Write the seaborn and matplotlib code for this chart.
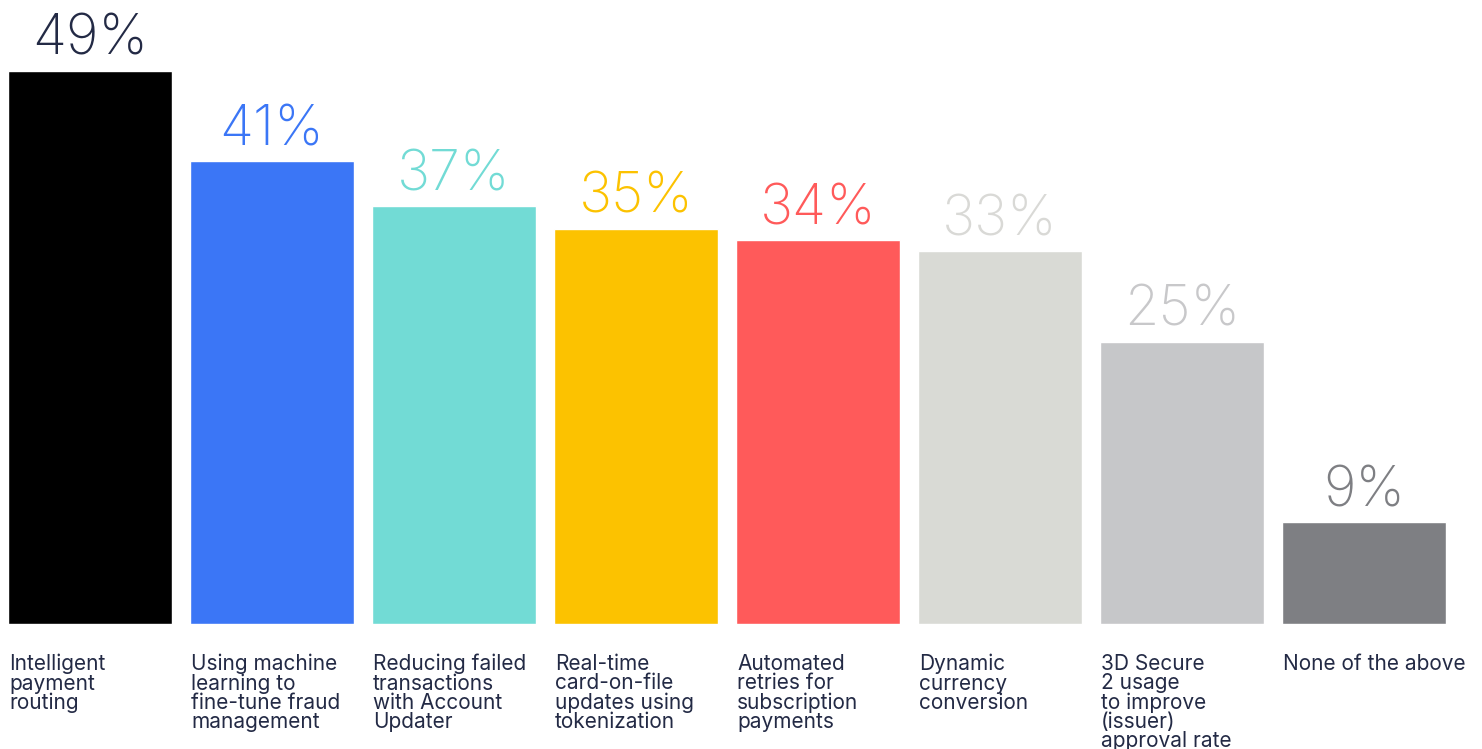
import matplotlib
matplotlib.use("Agg")
import matplotlib.pyplot as plt
import seaborn as sns
import pandas as pd

# 数据
categories = [
    "Intelligent\npayment\nrouting",
    "Using machine\nlearning to\nfine-tune fraud\nmanagement",
    "Reducing failed\ntransactions\nwith Account\nUpdater",
    "Real-time\ncard-on-file\nupdates using\ntokenization",
    "Automated\nretries for\nsubscription\npayments",
    "Dynamic\ncurrency\nconversion",
    "3D Secure\n2 usage\nto improve\n(issuer)\napproval rate",
    "None of the above",
]
values = [49, 41, 37, 35, 34, 33, 25, 9]
bar_colors = ["#000000", "#3b76f6", "#72dbd5", "#fcc200", "#ff5a5a", "#d9dad5", "#c6c7c9", "#7e7f83"]
value_colors = ["#232a45", "#3b76f6", "#72dbd5", "#fcc200", "#ff5a5a", "#d9d9d6", "#c8c8ca", "#7e7f83"]
label_color = "#232a45"

df = pd.DataFrame({"category": categories, "value": values})

sns.set_style("white")
plt.rcParams["font.family"] = ["Inter", "DejaVu Sans"]

fig = plt.figure(figsize=(14.82, 7.49), dpi=100)
ax = fig.add_axes([0, 125 / 749, 1, 624 / 749])

sns.barplot(data=df, x="category", y="value", hue="category",
            palette=bar_colors, width=0.9, saturation=1, legend=False, ax=ax)

ax.set_xlim(-90 / 182, (1482 - 90) / 182)
ax.set_ylim(0, 624 / 11.29)
ax.axis("off")

# 数值标签
for i, v in enumerate(values):
    ax.annotate(f"{v}%", xy=(i, v), xytext=(0, 16), textcoords="offset pixels",
                ha="center", va="baseline", fontsize=40, fontweight="light",
                color=value_colors[i])

# 类别标签
for i, c in enumerate(categories):
    ax.annotate(c, xy=(i - 0.45, 0), xycoords=("data", "axes fraction"),
                xytext=(1, -30), textcoords="offset pixels",
                ha="left", va="top", fontsize=15, linespacing=0.94,
                color=label_color)

fig.savefig("out.png", dpi=100)
